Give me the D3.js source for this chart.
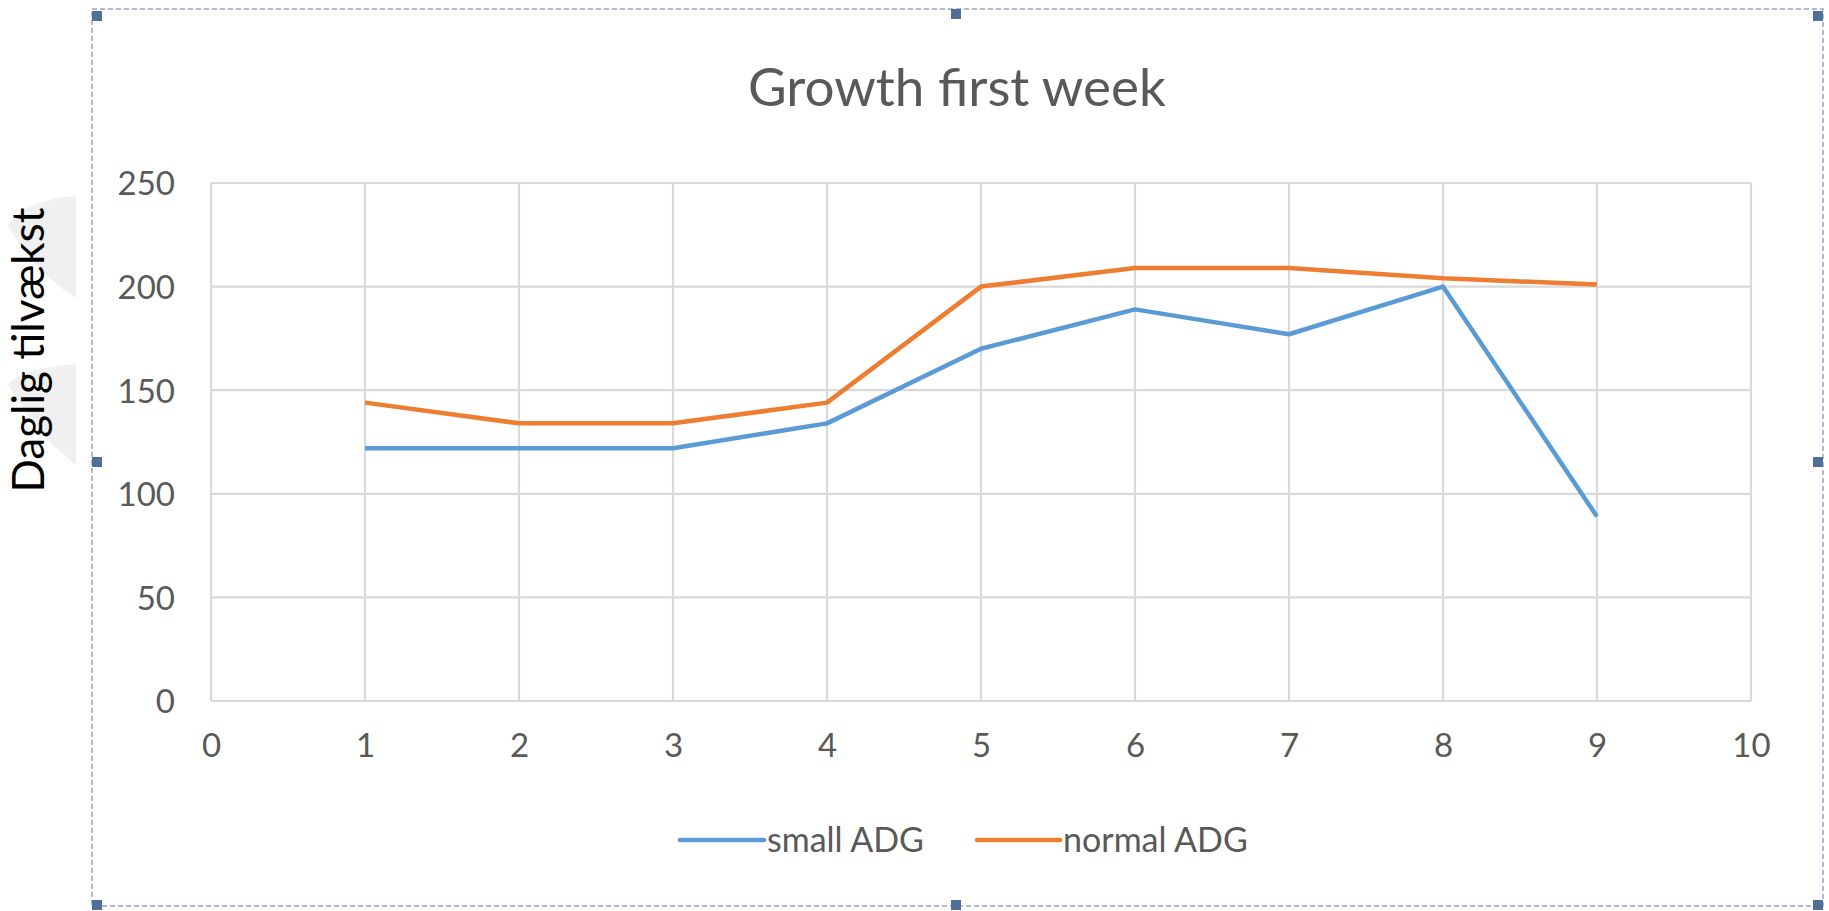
<!DOCTYPE html>
<html>
  <head>
    <meta http-equiv="content-type" content="text/html; charset=UTF-8">
    <title>Growth first week</title>
    <script type='text/javascript' src='https://d3js.org/d3.v7.min.js'></script>
    <style type='text/css'>
      body { margin: 0; background-color: white; }
      svg { display: block; }
    </style>
  </head>
  <body>
    <script type='text/javascript'>
      // chart data
      var days = [1, 2, 3, 4, 5, 6, 7, 8, 9];
      var smallADG = [122, 122, 122, 134, 170, 189, 177, 200, 89];
      var normalADG = [144, 134, 134, 144, 200, 209, 209, 204, 201];
      var seriesNames = ["small ADG", "normal ADG"];
      var seriesColors = ["#5b9bd5", "#ed7d31"];
      var xTicks = [0, 1, 2, 3, 4, 5, 6, 7, 8, 9, 10];
      var yTicks = [0, 50, 100, 150, 200, 250];

      var w = 1829, h = 911;
      var font = "Lato, 'Open Sans', sans-serif";

      var svg = d3.select("body").append("svg")
        .attr("width", w).attr("height", h);

      // faint watermark leaves behind the axis title
      var leaf = svg.append("g").attr("fill", "#f0f0f0");
      leaf.append("path").attr("d", "M76,196 Q24,200 8,226 Q34,272 76,298 Z");
      leaf.append("path").attr("d", "M76,364 Q24,368 8,384 Q34,432 76,465 Z");

      // selection frame
      svg.append("rect")
        .attr("x", 92).attr("y", 9).attr("width", 1731).attr("height", 897)
        .attr("fill", "none").attr("stroke", "#92a7c4")
        .attr("stroke-width", 1.5).attr("stroke-dasharray", "5,3");

      var handles = [[97, 16], [956, 14], [1818, 16], [97, 462], [1818, 462], [97, 905], [956, 905], [1818, 905]];
      svg.selectAll(".handle").data(handles).enter().append("rect")
        .attr("class", "handle")
        .attr("x", function(d) { return d[0] - 5; })
        .attr("y", function(d) { return d[1] - 5; })
        .attr("width", 10).attr("height", 10)
        .attr("fill", "#4f6f98");

      var x = d3.scaleLinear().domain([0, 10]).range([211, 1751]);
      var y = d3.scaleLinear().domain([0, 250]).range([701, 183]);

      // gridlines
      var grid = svg.append("g").attr("stroke", "#d9d9d9").attr("stroke-width", 2.2);
      grid.selectAll(".vx").data(xTicks).enter().append("line")
        .attr("x1", function(d) { return x(d); }).attr("x2", function(d) { return x(d); })
        .attr("y1", y(0)).attr("y2", y(250));
      grid.selectAll(".hy").data(yTicks).enter().append("line")
        .attr("x1", x(0)).attr("x2", x(10))
        .attr("y1", function(d) { return y(d); }).attr("y2", function(d) { return y(d); });

      // axes (labels only, Excel style)
      var xAxis = svg.append("g")
        .attr("transform", "translate(0," + y(0) + ")")
        .call(d3.axisBottom(x).tickValues(xTicks).tickSize(0).tickPadding(33).tickFormat(d3.format("d")));
      var yAxis = svg.append("g")
        .attr("transform", "translate(" + x(0) + ",0)")
        .call(d3.axisLeft(y).tickValues(yTicks).tickSize(0).tickPadding(36).tickFormat(d3.format("d")));
      [xAxis, yAxis].forEach(function(a) {
        a.select(".domain").remove();
        a.selectAll("text").attr("fill", "#595959")
          .style("font-family", font).style("font-size", "33px");
      });
      yAxis.selectAll("text").attr("dy", "0.36em");

      // lines
      var series = [smallADG, normalADG];
      var line = d3.line()
        .x(function(d, i) { return x(days[i]); })
        .y(function(d) { return y(d); });
      series.forEach(function(s, k) {
        svg.append("path").datum(s)
          .attr("d", line)
          .attr("fill", "none")
          .attr("stroke", seriesColors[k])
          .attr("stroke-width", 4.5)
          .attr("stroke-linejoin", "round");
      });

      // title
      svg.append("text")
        .attr("x", 957).attr("y", 106)
        .attr("text-anchor", "middle")
        .attr("fill", "#595959")
        .style("font-family", font).style("font-size", "53px")
        .text("Growth first week");

      // y axis title
      svg.append("text")
        .attr("transform", "translate(44,350) rotate(-90)")
        .attr("text-anchor", "middle")
        .attr("fill", "#000")
        .style("font-family", font).style("font-size", "44px")
        .text("Daglig tilvækst");

      // legend
      var legendPos = [[680, 764], [977, 1060]];
      seriesNames.forEach(function(n, k) {
        svg.append("line")
          .attr("x1", legendPos[k][0]).attr("x2", legendPos[k][1])
          .attr("y1", 840).attr("y2", 840)
          .attr("stroke", seriesColors[k]).attr("stroke-width", 4.5)
          .attr("stroke-linecap", "round");
        svg.append("text")
          .attr("x", legendPos[k][1] + 3).attr("y", 840)
          .attr("dy", "0.36em")
          .attr("fill", "#595959")
          .style("font-family", font).style("font-size", "34px")
          .text(n);
      });
    </script>
  </body>
</html>
